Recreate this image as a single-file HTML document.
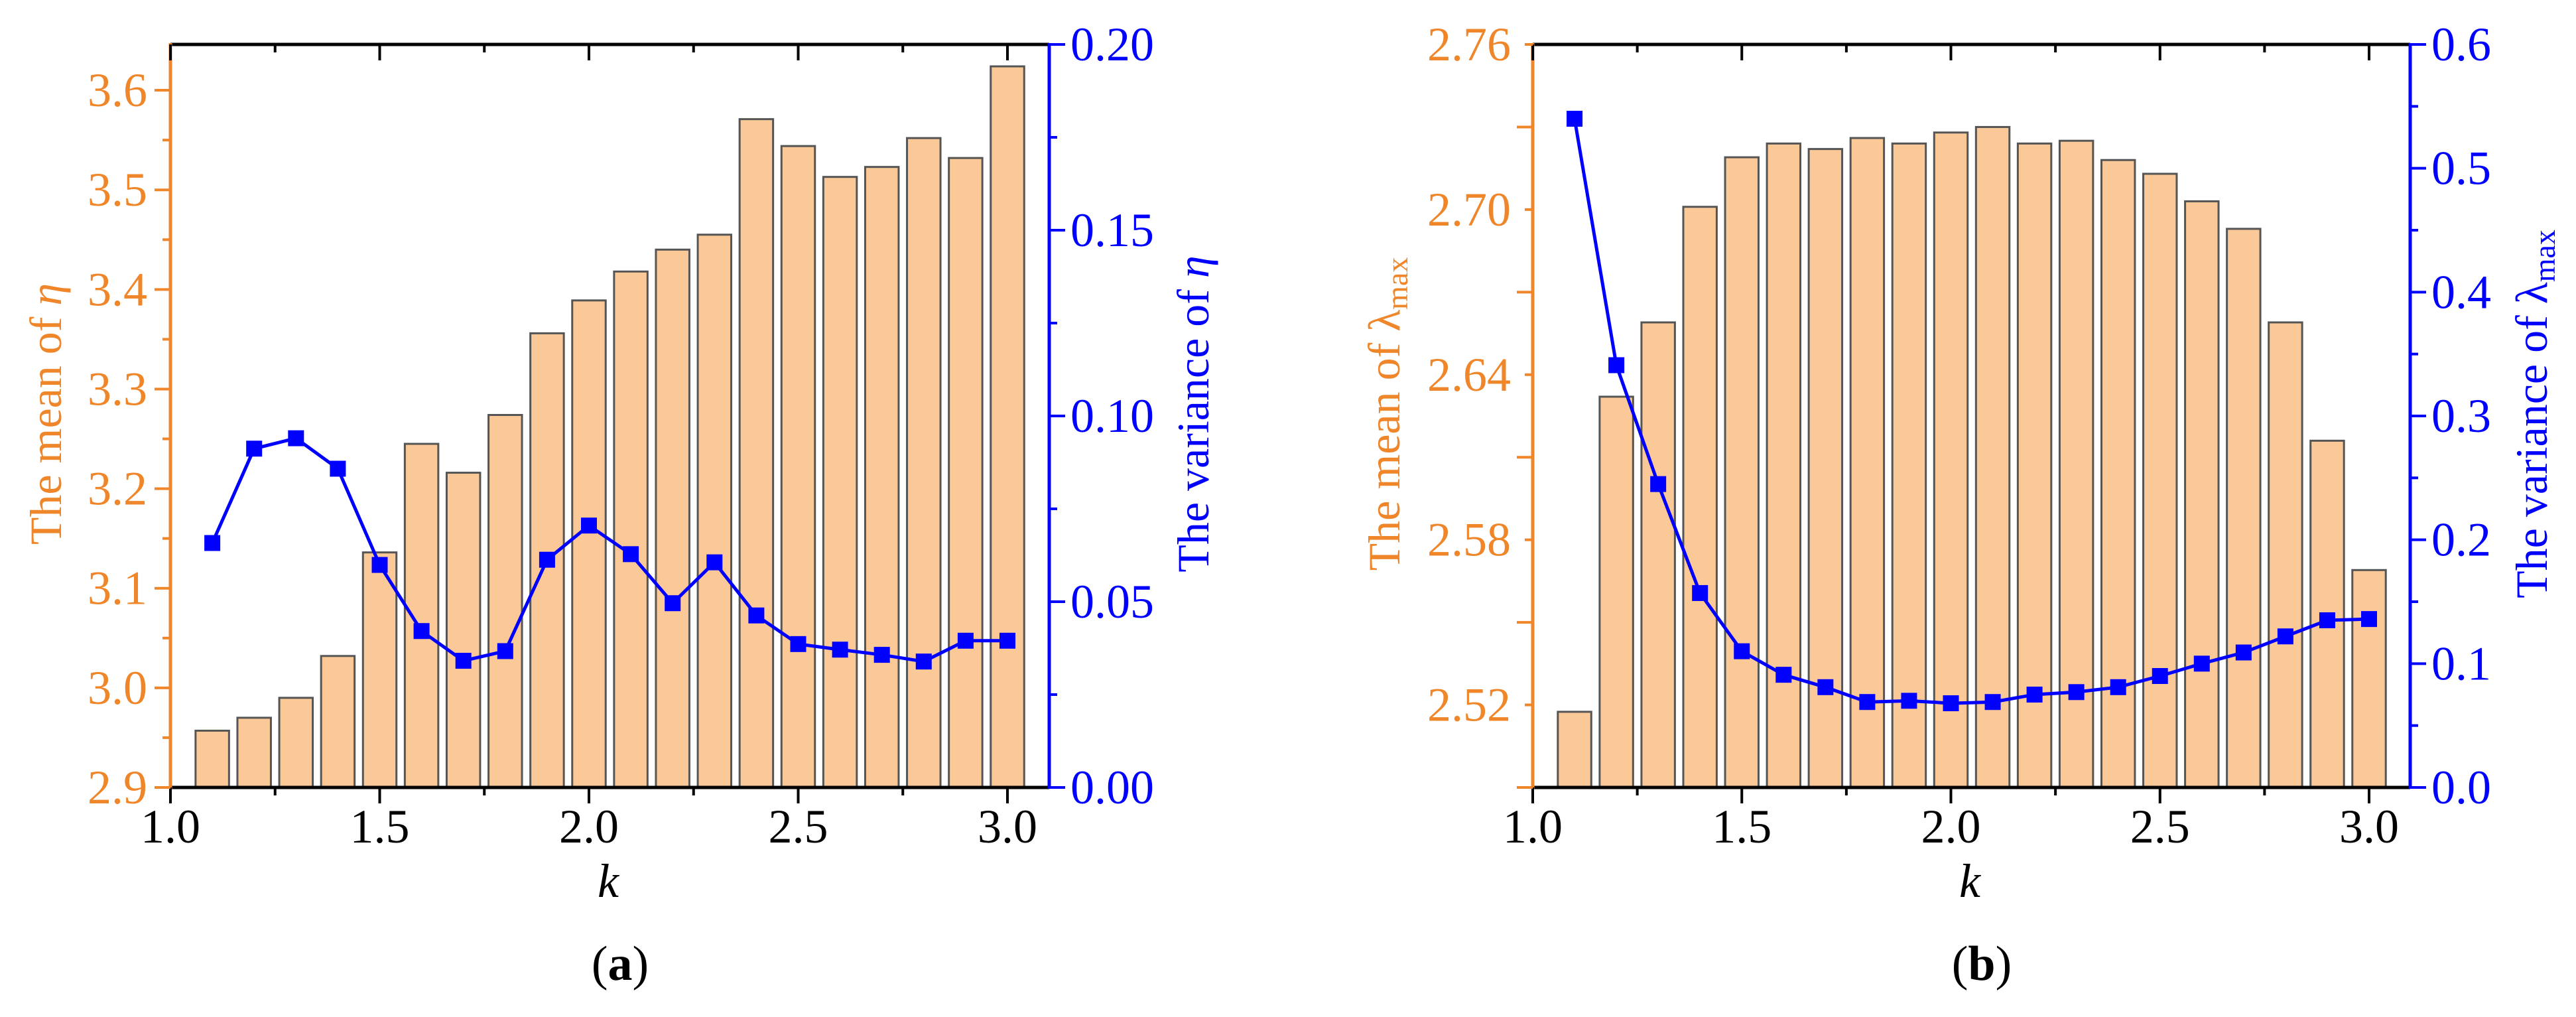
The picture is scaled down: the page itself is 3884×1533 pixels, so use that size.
<!DOCTYPE html>
<html><head><meta charset="utf-8">
<style>
html,body{margin:0;padding:0;background:#fff;}
svg{display:block;}
text{font-family:"Liberation Serif",serif;}
</style></head>
<body>
<svg id="fig" width="3884" height="1533" viewBox="0 0 3884 1533" xmlns="http://www.w3.org/2000/svg"></svg>
<script>
const kValues = [1.1,1.2,1.3,1.4,1.5,1.6,1.7,1.8,1.9,2.0,2.1,2.2,2.3,2.4,2.5,2.6,2.7,2.8,2.9,3.0];
const meanEta = [2.957,2.970,2.990,3.032,3.136,3.245,3.216,3.274,3.356,3.389,3.418,3.440,3.455,3.571,3.544,3.513,3.523,3.552,3.532,3.624];
const varEta = [0.0658,0.0912,0.0940,0.0858,0.0599,0.0421,0.0341,0.0367,0.0613,0.0705,0.0628,0.0496,0.0606,0.0463,0.0386,0.0371,0.0357,0.0339,0.0395,0.0395];
const meanLam = [2.5175,2.632,2.659,2.701,2.719,2.724,2.722,2.726,2.724,2.728,2.730,2.724,2.725,2.718,2.713,2.703,2.693,2.659,2.616,2.569];
const varLam = [0.540,0.341,0.245,0.157,0.110,0.091,0.081,0.069,0.070,0.068,0.069,0.075,0.077,0.081,0.090,0.100,0.109,0.122,0.135,0.136];
const xTicks = ["1.0","1.5","2.0","2.5","3.0"];
const leftTicksA = ["2.9","3.0","3.1","3.2","3.3","3.4","3.5","3.6"];
const rightTicksA = ["0.00","0.05","0.10","0.15","0.20"];
const leftTicksB = ["2.52","2.58","2.64","2.70","2.76"];
const rightTicksB = ["0.0","0.1","0.2","0.3","0.4","0.5","0.6"];

const NS="http://www.w3.org/2000/svg";
const svg=document.getElementById('fig');
const ORANGE="#F0862A", BLUE="#0000FF";
const FS=72;
function mk(tag,attrs,parent){const e=document.createElementNS(NS,tag);for(const k in attrs)e.setAttribute(k,attrs[k]);(parent||svg).appendChild(e);return e;}

function panel(cfg){
  const g=mk('g',{});
  
  
  const x0=cfg.x0, top=67, bot=1187, xr=cfg.xr;
  const sx=k=>x0+(k-1)*cfg.unit;
  const syL=v=>bot-(v-cfg.lmin)/(cfg.lmax-cfg.lmin)*(bot-top);
  const syR=v=>bot-(v-0)/(cfg.rmax)*(bot-top);
  const bw=cfg.unit*0.08;
  cfg.mean.forEach((v,i)=>{
    const r=mk('rect',{x:sx(kValues[i])-bw/2,y:syL(v),width:bw,height:bot-syL(v),fill:"#FBC998",stroke:"#555",'stroke-width':3},g);
    
    
  });
  const pts=cfg.vari.map((v,i)=>sx(kValues[i])+','+syR(v)).join(' ');
  const pl=mk('polyline',{points:pts,fill:'none',stroke:BLUE,'stroke-width':5},g);
  
  
  cfg.vari.forEach((v,i)=>{
    const m=mk('rect',{x:sx(kValues[i])-12,y:syR(v)-12,width:24,height:24,fill:BLUE},g);
    
    
  });
  mk('line',{x1:x0,y1:top,x2:xr,y2:top,stroke:'#000','stroke-width':5},g);
  mk('line',{x1:x0,y1:bot,x2:xr,y2:bot,stroke:'#000','stroke-width':5},g);
  mk('line',{x1:x0,y1:top-2,x2:x0,y2:bot+2,stroke:ORANGE,'stroke-width':5},g);
  mk('line',{x1:xr,y1:top-2,x2:xr,y2:bot+2,stroke:BLUE,'stroke-width':5},g);
  for(let i=0;i<=8;i++){
    const k=1+i*0.25, x=sx(k), major=i%2===0;
    mk('line',{x1:x,y1:bot,x2:x,y2:bot+(major?24:12),stroke:'#000','stroke-width':4},g);
    mk('line',{x1:x,y1:top,x2:x,y2:top+(major?24:12),stroke:'#000','stroke-width':4},g);
  }
  xTicks.forEach(t=>{
    const tx=mk('text',{x:sx(parseFloat(t)),y:1270,'font-size':FS,'text-anchor':'middle',fill:'#000'},g);
    tx.textContent=t;
    
    
  });
  for(let v=cfg.lmin0;v<=cfg.lmax+1e-9;v+=cfg.lminor){
    const y=syL(v), idx=Math.round((v-cfg.lmin0)/cfg.lminor), major=idx%2===0;
    if(y<top-1)continue;
    mk('line',{x1:x0,y1:y,x2:x0-(major?24:12),y2:y,stroke:ORANGE,'stroke-width':4},g);
  }
  cfg.lticks.forEach(t=>{
    const tx=mk('text',{x:cfg.ltx,y:syL(parseFloat(t))+24,'font-size':FS,'text-anchor':'end',fill:ORANGE},g);
    tx.textContent=t;
    
    
  });
  for(let v=0;v<=cfg.rmax+1e-9;v+=cfg.rminor){
    const y=syR(v), idx=Math.round(v/cfg.rminor), major=idx%2===0;
    mk('line',{x1:xr,y1:y,x2:xr+(major?24:12),y2:y,stroke:BLUE,'stroke-width':4},g);
  }
  cfg.rticks.forEach(t=>{
    const tx=mk('text',{x:xr+32,y:syR(parseFloat(t))+24,'font-size':FS,'text-anchor':'start',fill:BLUE},g);
    tx.textContent=t;
    
    
  });
  const lt=mk('text',{x:0,y:0,'font-size':68,'text-anchor':'middle',fill:ORANGE,transform:`translate(${cfg.ltitleX},624) rotate(-90)`},g);
  lt.innerHTML=cfg.ltitle;
  
  
  const rt=mk('text',{x:0,y:0,'font-size':68,'text-anchor':'middle',fill:BLUE,transform:`translate(${cfg.rtitleX},624) rotate(-90)`},g);
  rt.innerHTML=cfg.rtitle;
  
  
  const kt=mk('text',{x:cfg.kx,y:1352,'font-size':FS,'text-anchor':'middle','font-style':'italic',fill:'#000'},g);
  kt.textContent='k';
  
  
  const pt=mk('text',{x:cfg.kx+18,y:1477,'font-size':74,'text-anchor':'middle',fill:'#000'},g);
  pt.innerHTML='(<tspan font-weight="bold">'+cfg.label+'</tspan>)';
  
  
}

panel({name:'panel-a',x0:257,xr:1582,unit:631,mean:meanEta,vari:varEta,
  lmin:2.9,lmax:3.646,lmin0:2.9,lminor:0.05,lticks:leftTicksA,
  rmax:0.2,rminor:0.025,rticks:rightTicksA,ltx:222,ltitleX:92,rtitleX:1822,kx:917,label:'a',
  ltitle:'The mean of <tspan font-style="italic">η</tspan>',
  rtitle:'The variance of <tspan font-style="italic">η</tspan>'});
panel({name:'panel-b',x0:2311,xr:3634,unit:630.5,mean:meanLam,vari:varLam,
  lmin:2.49,lmax:2.76,lmin0:2.49,lminor:0.03,lticks:leftTicksB,
  rmax:0.6,rminor:0.05,rticks:rightTicksB,ltx:2278,ltitleX:2110,rtitleX:3840,kx:2970,label:'b',
  ltitle:'The mean of λ<tspan font-size="46" dy="12">max</tspan>',
  rtitle:'The variance of λ<tspan font-size="46" dy="12">max</tspan>'});
</script>
</body></html>
